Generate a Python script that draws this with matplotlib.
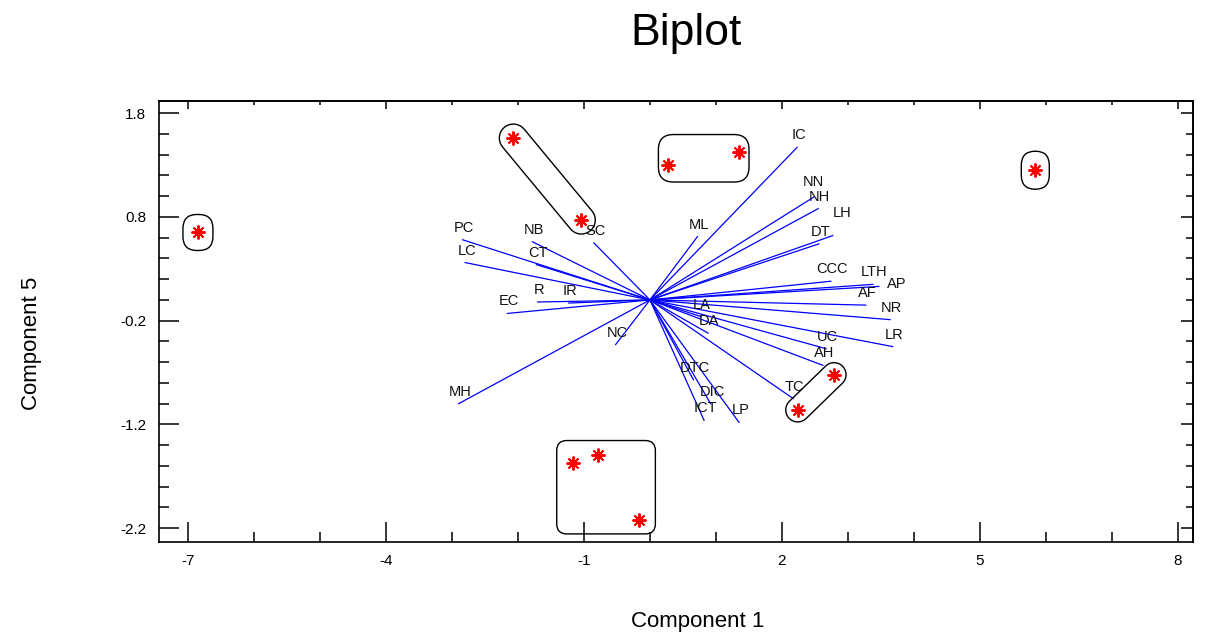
import numpy as np
import matplotlib
matplotlib.use('Agg')
import matplotlib.pyplot as plt
from matplotlib.patches import FancyBboxPatch, Polygon
from matplotlib.ticker import MultipleLocator
from matplotlib.transforms import IdentityTransform

plt.rcParams['font.family'] = ['Liberation Sans', 'DejaVu Sans']
plt.rcParams['axes.unicode_minus'] = False

# variable loadings (Component 1, Component 5)
var_names = ['IC', 'NN', 'NH', 'LH', 'DT', 'ML', 'CCC', 'LTH', 'AP', 'AF', 'NR', 'LR',
             'UC', 'AH', 'TC', 'LP', 'ICT', 'DIC', 'DTC', 'DA', 'LA', 'NC', 'MH',
             'EC', 'R', 'IR', 'CT', 'LC', 'PC', 'NB', 'SC']
var_x = [2.23, 2.48, 2.55, 2.77, 2.56, 0.72, 2.74, 3.38, 3.47, 3.27, 3.64, 3.68,
         2.67, 2.62, 2.17, 1.35, 0.82, 0.92, 0.66, 0.88, 0.77, -0.52, -2.90,
         -2.16, -1.70, -1.23, -1.72, -2.80, -2.84, -1.78, -0.85]
var_y = [1.47, 0.99, 0.88, 0.62, 0.54, 0.61, 0.18, 0.15, 0.13, -0.05, -0.19, -0.45,
         -0.47, -0.63, -0.95, -1.18, -1.16, -1.00, -0.77, -0.32, -0.16, -0.43, -1.00,
         -0.13, -0.02, -0.03, 0.34, 0.36, 0.58, 0.56, 0.55]

# observation scores
obs_x = [-6.85, -2.07, -1.04, 0.28, 1.35, 5.84, -1.17, -0.79, -0.16, 2.79, 2.24]
obs_y = [0.65, 1.56, 0.77, 1.30, 1.43, 1.25, -1.57, -1.49, -2.12, -0.72, -1.06]

xticks = [-7, -4, -1, 2, 5, 8]
yticks = [1.8, 0.8, -0.2, -1.2, -2.2]

# outlines around groups of observations (pixel paddings)
groups = [
    ('box', [0], 15, 18, 14),
    ('blob', [1, 2], 14, 14, 0),
    ('box', [3, 4], 10, 17, 15),
    ('box', [5], 14, 19, 14),
    ('box', [6, 7, 8], 16, 14, 10),
    ('blob', [9, 10], 12, 12, 0),
]

# label nudges in points (default sits just above the arrow tip)
nudge = {'NN': (0, 11), 'LH': (6.5, 16.5), 'AP': (13, 1.5)}

fig = plt.figure(figsize=(12.09, 6.35), dpi=100)
ax = fig.add_axes([159 / 1209, 1 - 541.7 / 635, (1193 - 159) / 1209, (541.7 - 100.7) / 635])
ax.set_xlim(-7.44, 8.23)
ax.set_ylim(-2.33, 1.92)

for name, x, y in zip(var_names, var_x, var_y):
    ax.plot([0, x], [0, y], color='#0000ff', lw=0.9, zorder=2)
    off = nudge.get(name, (1, 8.6))
    ax.annotate(name, (x, y), xytext=off, textcoords='offset points',
                ha='center', va='center', fontsize=10.5, color='#111111', zorder=3)

ax.plot(obs_x, obs_y, linestyle='none', marker=(8, 2, 0), markersize=10,
        color='red', mew=1.4, zorder=4)

# group outlines drawn in pixel space
pts = ax.transData.transform(np.column_stack([obs_x, obs_y]))
for kind, idx, px, py, r in groups:
    p = pts[idx]
    if kind == 'box':
        x0, y0 = p.min(axis=0)
        x1, y1 = p.max(axis=0)
        patch = FancyBboxPatch((x0 - px, y0 - py), x1 - x0 + 2 * px, y1 - y0 + 2 * py,
                               boxstyle=f'round,pad=0,rounding_size={r}',
                               fill=False, ec='black', lw=1.0,
                               transform=IdentityTransform(), zorder=3)
    else:
        a, b = p[0], p[1]
        ang = np.arctan2(b[1] - a[1], b[0] - a[0])
        t1 = np.linspace(ang - np.pi / 2, ang + np.pi / 2, 20)
        t2 = np.linspace(ang + np.pi / 2, ang + 3 * np.pi / 2, 20)
        arc_b = np.column_stack([b[0] + px * np.cos(t1), b[1] + px * np.sin(t1)])
        arc_a = np.column_stack([a[0] + px * np.cos(t2), a[1] + px * np.sin(t2)])
        patch = Polygon(np.vstack([arc_b, arc_a]), closed=True, fill=False,
                        ec='black', lw=1.0, transform=IdentityTransform(), zorder=3)
    fig.add_artist(patch)

# ticks
ax.set_xticks(xticks)
ax.set_xticklabels([str(t) for t in xticks])
ax.set_yticks(yticks)
ax.set_yticklabels([f'{t:.1f}' for t in yticks])
ax.xaxis.set_minor_locator(MultipleLocator(1))
ax.yaxis.set_minor_locator(MultipleLocator(0.2))
ax.tick_params(which='major', direction='in', length=14.5, width=1.1, labelsize=11, pad=9)
ax.tick_params(which='minor', direction='in', length=7, width=1.1)
for s in ax.spines.values():
    s.set_linewidth(1.2)

top = ax.secondary_xaxis('top')
top.set_xticks(xticks)
top.xaxis.set_minor_locator(MultipleLocator(1))
top.tick_params(which='major', direction='in', length=6, width=1.1, labeltop=False)
top.tick_params(which='minor', direction='in', length=3, width=1.1)
right = ax.secondary_yaxis('right')
right.set_yticks(yticks)
right.yaxis.set_minor_locator(MultipleLocator(0.2))
right.tick_params(which='major', direction='in', length=9, width=1.1, labelright=False)
right.tick_params(which='minor', direction='in', length=5, width=1.1)
for sec in (top, right):
    for s in sec.spines.values():
        s.set_linewidth(1.2)

fig.text(686 / 1209, 1 - 33 / 635, 'Biplot', fontsize=32, ha='center', va='center')
fig.text(698 / 1209, 1 - 621 / 635, 'Component 1', fontsize=16, ha='center', va='center')
fig.text(32 / 1209, 1 - 343 / 635, 'Component 5', fontsize=16, ha='center', va='center',
         rotation=90)

fig.savefig('out.png', dpi=100)
